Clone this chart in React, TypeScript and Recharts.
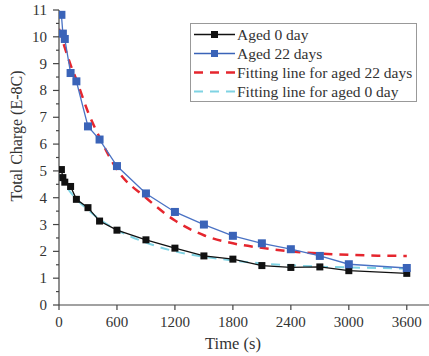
import { LineChart, Line, XAxis, YAxis } from 'recharts';

// measured points (s)
const times = [25, 40, 60, 120, 180, 300, 420, 600, 900, 1200, 1500, 1800, 2100, 2400, 2700, 3000, 3600];
const aged0 = [5.05, 4.75, 4.58, 4.42, 3.94, 3.63, 3.13, 2.79, 2.43, 2.12, 1.83, 1.71, 1.47, 1.40, 1.42, 1.28, 1.18];
const aged22 = [10.82, 10.12, 9.92, 8.65, 8.34, 6.66, 6.17, 5.18, 4.16, 3.47, 3.0, 2.58, 2.30, 2.08, 1.83, 1.52, 1.38];

// fitting curves
const fitTimes = [0, 60, 120, 180, 300, 420, 600, 900, 1200, 1500, 1800, 2100, 2400, 2700, 3000, 3300, 3600];
const fit22 = [10.3, 9.6, 8.95, 8.4, 7.2, 6.25, 5.05, 4.0, 3.15, 2.6, 2.3, 2.13, 2.0, 1.92, 1.87, 1.84, 1.83];
const fit0 = [4.85, 4.5, 4.2, 3.95, 3.55, 3.2, 2.8, 2.33, 2.0, 1.8, 1.66, 1.55, 1.48, 1.43, 1.4, 1.38, 1.36];

const xTicks = [0, 300, 600, 900, 1200, 1500, 1800, 2100, 2400, 2700, 3000, 3300, 3600];
const yTicks = [0, 0.5, 1, 1.5, 2, 2.5, 3, 3.5, 4, 4.5, 5, 5.5, 6, 6.5, 7, 7.5, 8, 8.5, 9, 9.5, 10, 10.5, 11];

const legendItems = [
    { label: 'Aged 0 day', color: '#111', marker: true, dash: undefined, width: 1.5 },
    { label: 'Aged 22 days', color: '#3a63b8', marker: true, dash: undefined, width: 1.5 },
    { label: 'Fitting line for aged 22 days', color: '#e5262e', marker: false, dash: '9 7', width: 2.5 },
    { label: 'Fitting line for aged 0 day', color: '#7fd3e3', marker: false, dash: '9 7', width: 2 },
];

const FONT = '"Liberation Serif", "Times New Roman", serif';
const AXIS = '#444';

const toRows = (xs: number[], ys: number[]) => xs.map((t, i) => ({ t, v: ys[i] }));

const Square = (color: string, size: number) => (props: any) => {
    const { cx, cy, index } = props;
    if (cx == null || cy == null) return <g key={index} />;
    return <rect key={index} x={cx - size / 2} y={cy - size / 2} width={size} height={size} fill={color} />;
};

const XTick = (props: any) => {
    const { x, y, payload } = props;
    const major = payload.value % 600 === 0;
    return (
        <g>
            <line x1={x} x2={x} y1={y} y2={y + (major ? 5 : 3)} stroke={AXIS} strokeWidth={1.2} />
            {major && (
                <text x={x} y={y + 22} textAnchor="middle" fontFamily={FONT} fontSize={15} fill="#333">
                    {payload.value}
                </text>
            )}
        </g>
    );
};

const YTick = (props: any) => {
    const { x, y, payload } = props;
    const major = payload.value % 1 === 0;
    return (
        <g>
            <line x1={x} x2={x - (major ? 6 : 3)} y1={y} y2={y} stroke={AXIS} strokeWidth={1.2} />
            {major && (
                <text x={x - 12} y={y + 5} textAnchor="end" fontFamily={FONT} fontSize={15} fill="#333">
                    {payload.value}
                </text>
            )}
        </g>
    );
};

const XLabel = () => (
    <text x={233} y={349} textAnchor="middle" fontFamily={FONT} fontSize={16.5} fill="#333">
        Time (s)
    </text>
);

const YLabel = () => (
    <text x={22} y={136} transform="rotate(-90 22 136)" textAnchor="middle" fontFamily={FONT} fontSize={16} fill="#333">
        Total Charge (E-8C)
    </text>
);

function LegendBox() {
    return (
        <div
            style={{
                position: 'absolute',
                left: 190,
                top: 23,
                width: 227,
                height: 79,
                border: '1px solid #999',
                background: '#fff',
                fontFamily: FONT,
                fontSize: 15.5,
                color: '#333',
                paddingTop: 1,
                boxSizing: 'border-box',
            }}
        >
            {legendItems.map((item) => (
                <div key={item.label} style={{ display: 'flex', alignItems: 'center', height: 19, whiteSpace: 'nowrap' }}>
                    <svg width={46} height={19} style={{ flex: 'none' }}>
                        <line x1={3} x2={44} y1={9.5} y2={9.5} stroke={item.color} strokeWidth={item.width} strokeDasharray={item.dash} />
                        {item.marker && <rect x={20} y={6} width={7} height={7} fill={item.color} />}
                    </svg>
                    <span style={{ fontFamily: FONT }}>{item.label}</span>
                </div>
            ))}
        </div>
    );
}

export default function App() {
    return (
        <div style={{ position: 'absolute', left: 0, top: 0, width: 429, height: 356, background: '#fff' }}>
            <LineChart width={429} height={356} margin={{ top: 10, right: 0, bottom: 0, left: 0 }}>
                <XAxis
                    dataKey="t"
                    type="number"
                    domain={[0, 3830]}
                    ticks={xTicks}
                    allowDataOverflow
                    height={51}
                    tickSize={0}
                    tickMargin={0}
                    tick={<XTick />}
                    axisLine={{ stroke: AXIS, strokeWidth: 1.2 }}
                    label={<XLabel />}
                />
                <YAxis
                    type="number"
                    domain={[0, 11]}
                    ticks={yTicks}
                    width={59}
                    tickSize={0}
                    tickMargin={0}
                    tick={<YTick />}
                    interval={0}
                    axisLine={{ stroke: AXIS, strokeWidth: 1.2 }}
                    label={<YLabel />}
                />
                <Line
                    data={toRows(fitTimes, fit22)}
                    dataKey="v"
                    type="monotone"
                    stroke="#e5262e"
                    strokeWidth={2.5}
                    strokeDasharray="9 7"
                    dot={false}
                    isAnimationActive={false}
                />
                <Line
                    data={toRows(fitTimes, fit0)}
                    dataKey="v"
                    type="monotone"
                    stroke="#7fd3e3"
                    strokeWidth={2}
                    strokeDasharray="9 7"
                    dot={false}
                    isAnimationActive={false}
                />
                <Line
                    data={toRows(times, aged0)}
                    dataKey="v"
                    type="linear"
                    stroke="#111"
                    strokeWidth={1.3}
                    dot={Square('#111', 7)}
                    isAnimationActive={false}
                />
                <Line
                    data={toRows(times, aged22)}
                    dataKey="v"
                    type="linear"
                    stroke="#4a72c4"
                    strokeWidth={1.3}
                    dot={Square('#3a63b8', 8)}
                    isAnimationActive={false}
                />
            </LineChart>
            <LegendBox />
        </div>
    );
}
